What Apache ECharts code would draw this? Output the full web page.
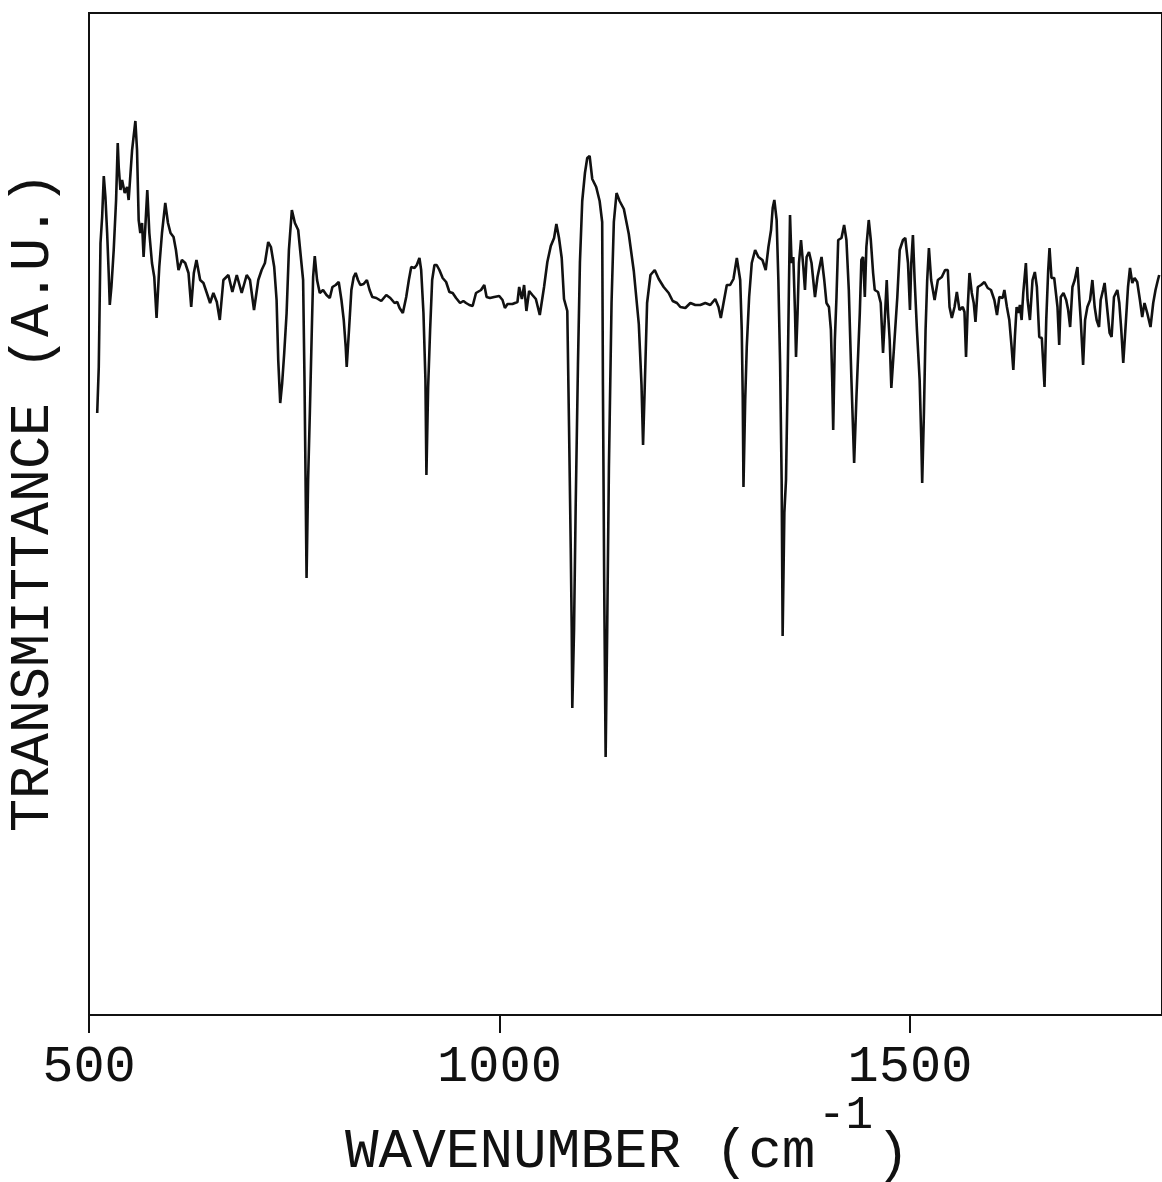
<!DOCTYPE html>
<html>
<head>
<meta charset="utf-8">
<script src="https://cdn.jsdelivr.net/npm/echarts@6/dist/echarts.min.js"></script>
<style>
html,body{margin:0;padding:0;background:#fff;}
#chart{width:1162px;height:1182px;}
</style>
</head>
<body>
<div id="chart"></div>
<script>
// Spectrum: [wavenumber (cm-1), transmittance (A.U., 0-100 scale)]
const region500to760 = [[510.0,60.2],[511.9,64.8],[514.0,77.2],[516.0,79.8],[518.0,83.9],[520.0,81.8],[522.1,78.2],[524.0,74.2],[525.3,71.0],[527.3,72.8],[530.1,76.5],[533.0,81.5],[535.0,87.2],[536.2,84.8],[538.3,82.5],[540.3,83.5],[543.5,82.2],[546.4,82.8],[548.3,81.5],[552.5,86.5],[556.5,89.4],[558.5,86.5],[560.5,79.5],[562.5,78.2],[564.6,79.2],[566.5,75.8],[568.6,78.8],[571.0,82.5],[573.5,78.2],[576.7,75.2],[579.5,73.8],[582.3,69.7],[585.6,74.8],[588.9,78.2],[592.9,81.2],[596.2,79.2],[599.3,78.2],[603.0,77.8],[605.9,76.5],[609.0,74.5],[613.2,75.5],[617.2,75.2],[621.2,74.2],[624.5,70.8],[627.7,74.2],[630.9,75.5],[635.4,73.5],[639.4,73.2],[643.5,72.2],[647.5,71.2],[651.5,72.2],[655.7,71.3],[659.3,69.5],[663.7,73.5],[669.8,74.0],[674.6,72.3],[680.0,74.0],[686.0,72.2],[692.1,74.0],[696.1,73.5],[701.0,70.5],[706.2,73.5],[710.3,74.5],[714.3,75.2],[718.3,77.3],[721.6,76.8],[725.6,74.8],[728.5,71.5],[730.5,65.5],[732.9,61.2],[735.3,63.2],[737.8,66.2],[740.7,70.2],[743.5,76.5],[747.1,80.5],[750.8,79.2],[754.8,78.5]];
const region760to1022 = [[760.8,73.5],[762.5,63.5],[763.7,54.2],[765.0,43.7],[766.9,53.5],[769.0,60.2],[771.4,68.5],[773.0,73.8],[775.0,75.9],[777.8,73.5],[781.1,72.2],[785.1,72.5],[789.3,72.0],[793.3,71.7],[796.5,72.8],[800.5,73.0],[804.2,73.3],[807.5,71.5],[810.3,69.5],[812.7,66.8],[813.9,64.8],[816.7,68.5],[819.6,72.5],[822.4,73.8],[824.8,74.2],[827.6,73.5],[830.5,73.0],[834.5,73.1],[838.5,73.5],[841.8,72.5],[845.1,71.8],[850.0,71.7],[856.0,71.4],[862.1,72.0],[867.0,71.7],[872.2,71.2],[875.5,71.3],[878.3,70.7],[882.3,70.2],[886.4,71.8],[889.6,73.5],[892.5,74.8],[896.5,74.7],[899.3,75.0],[902.5,75.7],[904.6,74.5],[907.4,70.2],[909.8,63.5],[911.0,54.0],[913.1,62.8],[915.5,68.5],[918.0,73.5],[920.8,75.0],[923.5,75.0],[926.8,74.5],[930.8,73.7],[935.0,73.3],[939.0,72.3],[943.0,72.2],[947.1,71.7],[952.0,71.2],[956.0,71.4],[959.3,71.2],[963.3,71.0],[967.3,70.9],[971.4,72.2],[977.5,72.5],[981.5,73.0],[984.3,71.8],[988.4,71.7],[993.6,71.8],[999.7,71.9],[1003.7,71.5],[1006.6,70.7],[1009.8,71.1],[1015.8,71.1],[1021.9,71.3]];
const region1022to1290 = [[1024.0,72.8],[1027.3,71.6],[1030.0,73.0],[1032.8,70.4],[1036.1,72.4],[1040.1,72.0],[1044.3,71.6],[1049.1,70.0],[1054.3,72.8],[1058.3,75.3],[1062.5,76.9],[1066.5,77.7],[1069.3,79.1],[1072.5,77.7],[1075.8,75.7],[1078.6,71.6],[1082.6,70.4],[1084.7,58.9],[1086.8,46.7],[1088.0,38.5],[1088.7,30.7],[1090.8,38.5],[1092.8,50.8],[1095.6,65.1],[1098.0,75.3],[1100.8,81.4],[1104.1,84.2],[1106.9,85.7],[1109.8,85.9],[1113.0,83.6],[1117.8,82.8],[1122.0,81.4],[1125.1,79.3],[1126.0,63.0],[1127.6,42.6],[1129.3,25.8],[1131.2,38.5],[1133.3,54.8],[1136.5,71.2],[1139.3,79.3],[1142.6,82.2],[1146.3,81.4],[1151.5,80.6],[1157.5,78.1],[1163.6,74.4],[1169.7,69.1],[1173.0,63.0],[1174.9,57.0],[1177.0,63.0],[1179.8,71.2],[1183.9,74.0],[1189.1,74.5],[1194.0,73.6],[1200.0,72.8],[1206.1,72.2],[1211.0,71.4],[1216.2,71.2],[1220.3,70.8],[1226.4,70.7],[1232.5,71.2],[1238.5,71.0],[1244.6,71.0],[1250.7,71.2],[1256.8,71.0],[1262.8,71.6],[1266.8,70.8],[1269.6,69.7],[1272.9,71.2],[1276.9,73.0],[1281.0,73.0],[1285.0,73.6],[1289.1,75.7]];
const region1290to1545 = [[1291.1,75.8],[1293.2,73.5],[1295.1,68.5],[1296.3,61.8],[1297.2,52.8],[1299.3,61.5],[1301.2,66.8],[1304.1,71.8],[1307.3,75.2],[1311.4,76.5],[1315.4,75.8],[1320.3,75.5],[1324.3,74.5],[1327.6,76.8],[1330.8,78.5],[1332.8,80.7],[1334.8,81.5],[1337.6,79.5],[1339.7,73.5],[1341.8,65.2],[1343.7,53.5],[1344.9,37.9],[1347.0,50.2],[1349.0,53.5],[1351.0,63.5],[1352.7,73.5],[1353.9,80.0],[1355.8,75.2],[1357.9,75.8],[1360.0,70.2],[1361.2,65.8],[1363.1,70.2],[1364.8,75.2],[1367.3,77.5],[1370.1,74.8],[1372.1,72.5],[1374.1,75.8],[1377.0,76.3],[1380.1,75.2],[1384.3,71.8],[1387.4,73.8],[1392.3,75.8],[1395.6,73.5],[1398.3,71.2],[1401.3,70.8],[1403.7,68.5],[1405.3,63.5],[1406.5,58.5],[1408.5,67.5],[1410.5,71.8],[1412.6,77.5],[1416.6,77.7],[1419.8,79.0],[1422.6,77.5],[1425.5,72.5],[1428.7,63.5],[1432.0,55.2],[1434.8,61.8],[1438.9,70.2],[1440.8,75.5],[1442.9,75.8],[1445.0,71.8],[1446.9,76.8],[1449.8,79.5],[1452.3,77.5],[1455.1,74.2],[1457.1,72.5],[1461.1,72.3],[1464.4,71.2],[1467.2,66.2],[1469.3,69.5],[1471.7,73.5],[1473.3,70.2],[1475.3,67.5],[1477.3,62.7],[1480.6,66.8],[1484.6,71.8],[1487.5,76.5],[1491.5,77.5],[1494.3,77.7],[1497.6,75.2],[1500.0,70.5],[1501.6,75.2],[1503.6,78.0],[1505.7,73.5],[1508.5,68.5],[1511.8,63.5],[1513.7,57.8],[1514.9,53.2],[1517.0,60.2],[1519.0,68.5],[1521.0,73.5],[1523.1,76.7],[1525.8,73.5],[1530.0,71.5],[1534.0,73.5],[1538.8,73.8],[1542.8,74.5]];
const region1545to1805 = [[1546.1,74.5],[1548.2,70.8],[1551.0,69.7],[1554.3,70.8],[1557.1,72.3],[1560.3,70.5],[1564.3,70.8],[1566.4,70.3],[1568.3,65.8],[1570.4,70.8],[1572.5,74.2],[1575.3,72.2],[1577.7,71.2],[1579.8,69.3],[1582.6,72.8],[1586.6,73.0],[1590.7,73.3],[1594.7,72.7],[1598.7,72.5],[1602.8,71.5],[1606.0,70.0],[1608.9,71.8],[1612.9,71.7],[1615.0,72.5],[1618.1,70.8],[1621.0,69.5],[1623.8,66.8],[1625.9,64.5],[1627.8,67.8],[1629.9,70.8],[1632.0,70.2],[1633.9,71.0],[1636.0,69.5],[1638.0,72.2],[1641.2,75.2],[1643.3,71.5],[1646.1,69.5],[1649.3,73.5],[1652.1,74.3],[1654.6,72.8],[1657.5,67.8],[1660.6,67.7],[1663.9,62.8],[1666.0,69.5],[1668.4,74.5],[1670.0,76.7],[1672.4,73.7],[1675.7,73.7],[1678.1,73.5],[1679.7,70.8],[1681.8,67.0],[1683.7,71.8],[1687.0,72.2],[1690.3,71.5],[1692.7,70.5],[1695.1,68.8],[1697.9,72.8],[1700.7,73.5],[1704.0,74.8],[1706.4,71.5],[1708.0,69.5],[1710.9,65.0],[1713.3,69.5],[1716.1,70.8],[1719.4,71.5],[1722.2,73.5],[1725.0,70.8],[1727.4,69.5],[1730.3,68.8],[1732.3,71.5],[1735.2,72.5],[1737.1,73.2],[1740.4,70.5],[1743.2,68.2],[1745.6,67.8],[1748.5,71.8],[1752.6,72.5],[1755.0,71.2],[1757.4,68.5],[1759.8,65.2],[1762.6,68.8],[1765.6,72.8],[1768.0,74.7],[1770.8,73.2],[1773.6,73.7],[1776.8,73.3],[1780.1,71.5],[1782.9,69.8],[1785.7,71.2],[1789.0,70.2],[1793.0,68.8],[1796.3,71.2],[1799.1,72.5],[1802.0,73.5],[1803.6,74.0]];

const xTickValues = [500, 1000, 1500];
const xTitle = 'WAVENUMBER (cm';
const xTitleSup = '-1';
const xTitleEnd = ')';
const yTitle = 'TRANSMITTANCE (A.U.)';

const spectrum = [].concat(region500to760, region760to1022, region1022to1290, region1290to1545, region1545to1805);

const FONT = '"Liberation Mono", "DejaVu Sans Mono", monospace';
const INK = '#111';

const chart = echarts.init(document.getElementById('chart'), null, {renderer: 'canvas'});
chart.setOption({
  backgroundColor: '#fff',
  animation: false,
  grid: {left: 89, right: -3, top: 13, bottom: 167, show: true, borderColor: INK, borderWidth: 2, backgroundColor: 'transparent'},
  xAxis: {
    type: 'value', min: 500, max: 1807, interval: 500,
    axisLine: {show: true, lineStyle: {color: INK, width: 2}},
    axisTick: {show: true, length: 18, lineStyle: {color: INK, width: 2}},
    axisLabel: {
      show: true, margin: 26, color: INK, fontFamily: FONT, fontSize: 52,
      showMaxLabel: false,
      formatter: function (v) { return xTickValues.indexOf(v) >= 0 ? String(v) : ''; }
    },
    splitLine: {show: false}
  },
  yAxis: {
    type: 'value', min: 0, max: 100.2,
    axisLine: {show: true, lineStyle: {color: INK, width: 2}},
    axisTick: {show: false}, axisLabel: {show: false}, splitLine: {show: false}
  },
  series: [{
    type: 'line', data: spectrum, showSymbol: false, symbol: 'none', smooth: false,
    lineStyle: {color: INK, width: 2.6}, z: 5
  }],
  graphic: [
    {type: 'text', x: 33, y: 502, rotation: Math.PI / 2,
     style: {text: yTitle, font: '55px ' + FONT, fill: INK, textAlign: 'center', textVerticalAlign: 'middle'}},
    {type: 'text', x: 345, y: 1152,
     style: {text: xTitle, font: '56px ' + FONT, fill: INK, textAlign: 'left', textVerticalAlign: 'middle'}},
    {type: 'text', x: 818, y: 1116,
     style: {text: xTitleSup, font: '46px ' + FONT, fill: INK, textAlign: 'left', textVerticalAlign: 'middle'}},
    {type: 'text', x: 876, y: 1155,
     style: {text: xTitleEnd, font: '56px ' + FONT, fill: INK, textAlign: 'left', textVerticalAlign: 'middle'}}
  ]
});
</script>
</body>
</html>
